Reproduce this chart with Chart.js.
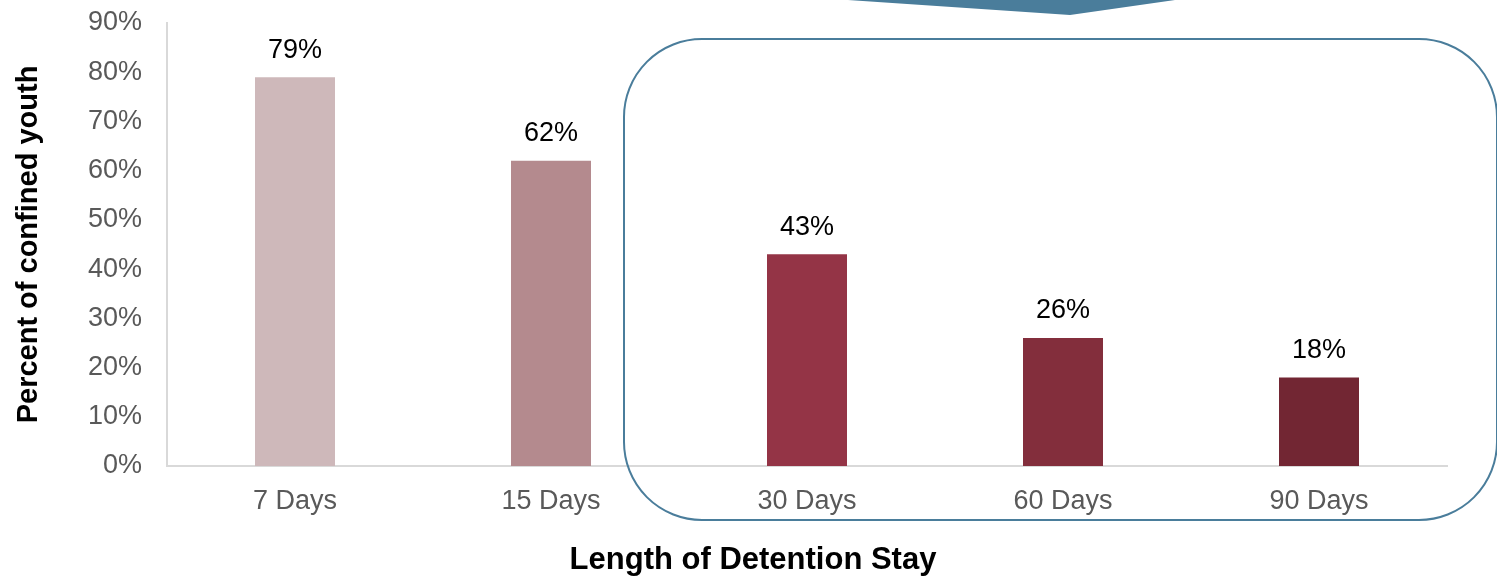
<!DOCTYPE html>
<html>
<head>
<meta charset="utf-8">
<script src="https://cdn.jsdelivr.net/npm/chart.js@4.4.1/dist/chart.umd.min.js"></script>
<style>
  html, body { margin: 0; padding: 0; background: #fff; }
  #wrap { width: 1497px; height: 576px; }
</style>
</head>
<body>
<div id="wrap"><canvas id="Chart_LOS"></canvas></div>
<script>
// données
const stayLabels = ['7 Days', '15 Days', '30 Days', '60 Days', '90 Days'];
const stayValues = [79, 62, 43, 26, 18];
const barColors = ['#CEB8BA', '#B48A8E', '#943446', '#832E3C', '#722633'];
const yTicks = [0, 10, 20, 30, 40, 50, 60, 70, 80, 90];
const xTitle = 'Length of Detention Stay';

const FONT = '"Liberation Sans", Arial, sans-serif';
const BLUE = '#4A7D9B';

// étiquettes au-dessus des barres
const barLabels = {
    id: 'barLabels',
    afterDatasetsDraw(chart) {
        const ctx = chart.ctx;
        const meta = chart.getDatasetMeta(0);
        ctx.save();
        ctx.font = '27px ' + FONT;
        ctx.fillStyle = '#000';
        ctx.textAlign = 'center';
        ctx.textBaseline = 'middle';
        meta.data.forEach((bar, i) => {
            ctx.fillText(stayValues[i] + '%', bar.x, bar.y - 27);
        });
        ctx.restore();
    }
};

// cadre arrondi + flèche en haut + titre de l'axe x (centré sur la page)
const callout = {
    id: 'callout',
    afterDraw(chart) {
        const ctx = chart.ctx;
        ctx.save();
        ctx.fillStyle = BLUE;
        ctx.beginPath();
        ctx.moveTo(848, 0);
        ctx.lineTo(1070, 15);
        ctx.lineTo(1175, 0);
        ctx.closePath();
        ctx.fill();

        ctx.strokeStyle = BLUE;
        ctx.lineWidth = 2;
        ctx.beginPath();
        ctx.roundRect(624, 39, 873, 481, 78);
        ctx.stroke();

        ctx.font = 'bold 31px ' + FONT;
        ctx.fillStyle = '#000';
        ctx.textAlign = 'center';
        ctx.textBaseline = 'middle';
        ctx.fillText(xTitle, 753, 560);
        ctx.restore();
    }
};

const LosChart = new Chart(document.getElementById('Chart_LOS').getContext('2d'), {
    type: 'bar',
    data: {
        labels: stayLabels,
        datasets: [{
            label: 'Percent of confined youth',
            data: stayValues,
            backgroundColor: barColors,
            borderWidth: 0,
            barPercentage: 1,
            categoryPercentage: 0.3125
        }]
    },
    options: {
        responsive: true,
        maintainAspectRatio: false,
        animation: false,
        layout: { padding: { top: 23, right: 50, left: 0, bottom: 0 } },
        plugins: {
            legend: { display: false },
            tooltip: { enabled: false }
        },
        scales: {
            x: {
                afterFit(scale) { scale.height = 110; scale.paddingLeft = 0; scale.paddingRight = 0; },
                grid: { display: false, drawTicks: false },
                border: { display: true, color: '#D9D9D9', width: 2 },
                ticks: { color: '#595959', font: { family: FONT, size: 27 }, padding: 19 }
            },
            y: {
                min: 0,
                max: 90,
                afterFit(scale) { scale.width = 167; scale.paddingTop = 0; scale.paddingBottom = 0; },
                afterBuildTicks(scale) { scale.ticks = yTicks.map(v => ({ value: v })); },
                grid: { display: false, drawTicks: false },
                border: { display: true, color: '#D9D9D9', width: 2 },
                ticks: {
                    color: '#595959',
                    font: { family: FONT, size: 27 },
                    padding: 25,
                    callback: v => v + '%'
                },
                title: {
                    display: true,
                    text: 'Percent of confined youth',
                    color: '#000',
                    font: { family: FONT, size: 29, weight: 'bold', lineHeight: 1 },
                    padding: { top: 14, bottom: 0 }
                }
            }
        }
    },
    plugins: [barLabels, callout]
});
</script>
</body>
</html>
